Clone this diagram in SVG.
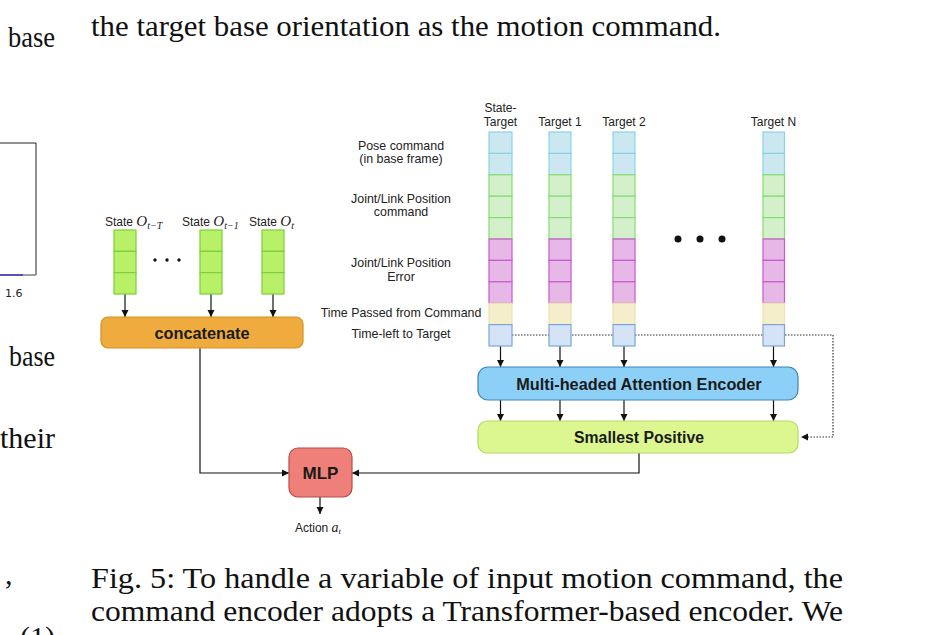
<svg xmlns="http://www.w3.org/2000/svg" width="935" height="635" viewBox="0 0 935 635">
<defs>
<marker id="ah" markerWidth="8" markerHeight="8" refX="7" refY="4" orient="auto" markerUnits="userSpaceOnUse">
<path d="M0,0.5 L7,4 L0,7.5 Z" fill="#111"/>
</marker>
<style>
.page{font-family:"Times New Roman","Liberation Serif",Times,serif;font-size:30px;fill:#111}
.lbl{font-family:"Liberation Sans",Arial,sans-serif;font-size:12px;fill:#222;text-anchor:middle}
.row{font-family:"Liberation Sans",Arial,sans-serif;font-size:12.4px;fill:#222;text-anchor:middle}
.big{font-family:"Liberation Sans",Arial,sans-serif;font-weight:bold;fill:#1a1a1a;text-anchor:middle}
.math{font-family:"Times New Roman","Liberation Serif",Times,serif;font-style:italic}
.cb{fill:#cbe7ef;stroke:#8dd2e4;stroke-width:1.2}
.cg{fill:#d4f0cb;stroke:#85dc72;stroke-width:1.2}
.cp{fill:#e6b7e7;stroke:#c95bcb;stroke-width:1.2}
.cy{fill:#f4efca;stroke:#ebe3b2;stroke-width:1.2}
.cl{fill:#d5e3f6;stroke:#7ea5da;stroke-width:1.2}
.cs{fill:#b8f168;stroke:#7ecf3b;stroke-width:1.2}
.conn{fill:none;stroke:#111;stroke-width:1.2}
.dot{fill:none;stroke:#333;stroke-width:1.2;stroke-dasharray:1.5 1.5}
</style>
</defs>
<rect width="935" height="635" fill="#fff"/>

<g id="page-text">
<text class="page" x="91" y="36" textLength="630" lengthAdjust="spacingAndGlyphs">the target base orientation as the motion command.</text>
<text class="page" x="8" y="47" textLength="47" lengthAdjust="spacingAndGlyphs">base</text>
<text class="page" x="9" y="366" textLength="46" lengthAdjust="spacingAndGlyphs">base</text>
<text class="page" x="0" y="448" textLength="55" lengthAdjust="spacingAndGlyphs">their</text>
<text class="page" x="5" y="584">,</text>
<text class="page" x="91" y="588" textLength="752" lengthAdjust="spacingAndGlyphs">Fig. 5: To handle a variable of input motion command, the</text>
<text class="page" x="91" y="621" textLength="752" lengthAdjust="spacingAndGlyphs">command encoder adopts a Transformer-based encoder. We</text>
<text class="page" x="20" y="647">(1)</text>
</g>

<g id="side-chart">
<path d="M0,143 H36 V275" fill="none" stroke="#222" stroke-width="1"/>
<line x1="0" y1="275" x2="23" y2="275" stroke="#2a2aa8" stroke-width="1.6"/>
<line x1="23" y1="275" x2="36" y2="275" stroke="#888" stroke-width="1.6"/>
<text x="5" y="297" font-family="DejaVu Sans, sans-serif" font-size="11" fill="#222">1.6</text>
</g>

<g id="connectors">
<line class="dot" x1="512" y1="335" x2="833" y2="335"/>
<path class="dot" d="M833,335 V437 H808"/>
<path d="M808,433.5 L801,437 L808,440.5 Z" fill="#111"/>
<line class="conn" x1="125" y1="294" x2="125" y2="317" marker-end="url(#ah)"/>
<line class="conn" x1="211" y1="294" x2="211" y2="317" marker-end="url(#ah)"/>
<line class="conn" x1="273" y1="294" x2="273" y2="317" marker-end="url(#ah)"/>
<line class="conn" x1="500.5" y1="346" x2="500.5" y2="367" marker-end="url(#ah)"/>
<line class="conn" x1="560" y1="346" x2="560" y2="367" marker-end="url(#ah)"/>
<line class="conn" x1="624" y1="346" x2="624" y2="367" marker-end="url(#ah)"/>
<line class="conn" x1="773.5" y1="346" x2="773.5" y2="367" marker-end="url(#ah)"/>
<line class="conn" x1="500.5" y1="400" x2="500.5" y2="421" marker-end="url(#ah)"/>
<line class="conn" x1="560" y1="400" x2="560" y2="421" marker-end="url(#ah)"/>
<line class="conn" x1="624" y1="400" x2="624" y2="421" marker-end="url(#ah)"/>
<line class="conn" x1="773.5" y1="400" x2="773.5" y2="421" marker-end="url(#ah)"/>
<path class="conn" d="M200,348 V473 H289" marker-end="url(#ah)"/>
<path class="conn" d="M639,453 V473 H352" marker-end="url(#ah)"/>
<line class="conn" x1="320" y1="497" x2="320" y2="514" marker-end="url(#ah)"/>
</g>

<g id="state-T">
<text class="lbl" x="105" y="226" style="text-anchor:start">State <tspan class="math" font-size="15">O</tspan><tspan class="math" font-size="10" dy="3">t−T</tspan></text>
<rect class="cs" x="114" y="230" width="22" height="21.3"/>
<rect class="cs" x="114" y="251.3" width="22" height="21.3"/>
<rect class="cs" x="114" y="272.6" width="22" height="21.4"/>
</g>
<g id="state-t-1">
<text class="lbl" x="182" y="226" style="text-anchor:start">State <tspan class="math" font-size="15">O</tspan><tspan class="math" font-size="10" dy="3">t−1</tspan></text>
<rect class="cs" x="200" y="230" width="22" height="21.3"/>
<rect class="cs" x="200" y="251.3" width="22" height="21.3"/>
<rect class="cs" x="200" y="272.6" width="22" height="21.4"/>
</g>
<g id="state-t">
<text class="lbl" x="249" y="226" style="text-anchor:start">State <tspan class="math" font-size="15">O</tspan><tspan class="math" font-size="10" dy="3">t</tspan></text>
<rect class="cs" x="262" y="230" width="22" height="21.3"/>
<rect class="cs" x="262" y="251.3" width="22" height="21.3"/>
<rect class="cs" x="262" y="272.6" width="22" height="21.4"/>
</g>
<g id="state-dots" fill="#111">
<circle cx="155" cy="260" r="1.7"/>
<circle cx="167" cy="260" r="1.7"/>
<circle cx="179" cy="260" r="1.7"/>
</g>

<g id="concatenate">
<rect x="101" y="317" width="202" height="31" rx="7" fill="#f0ab3f" stroke="#d4901f" stroke-width="1.2"/>
<text class="big" x="202" y="338.5" font-size="16.3">concatenate</text>
</g>

<g id="row-labels">
<text class="row" x="401" y="150">Pose command</text>
<text class="row" x="401" y="163">(in base frame)</text>
<text class="row" x="401" y="203">Joint/Link Position</text>
<text class="row" x="401" y="216">command</text>
<text class="row" x="401" y="267">Joint/Link Position</text>
<text class="row" x="401" y="281">Error</text>
<text class="row" x="401" y="317">Time Passed from Command</text>
<text class="row" x="401" y="338">Time-left to Target</text>
</g>

<g id="col-state-target">
<text class="lbl" x="500.5" y="112">State-</text>
<text class="lbl" x="500.5" y="126">Target</text>
<rect class="cb" x="489" y="132" width="23" height="21.4"/>
<rect class="cb" x="489" y="153.4" width="23" height="21.4"/>
<rect class="cg" x="489" y="174.8" width="23" height="21.4"/>
<rect class="cg" x="489" y="196.2" width="23" height="21.4"/>
<rect class="cg" x="489" y="217.6" width="23" height="21.4"/>
<rect class="cp" x="489" y="239" width="23" height="21.4"/>
<rect class="cp" x="489" y="260.4" width="23" height="21.4"/>
<rect class="cp" x="489" y="281.8" width="23" height="21.4"/>
<rect class="cy" x="489" y="303.2" width="23" height="21.4"/>
<rect class="cl" x="489" y="324.6" width="23" height="21.4"/>
</g>
<g id="col-target-1">
<text class="lbl" x="560" y="126">Target 1</text>
<rect class="cb" x="549" y="132" width="22" height="21.4"/>
<rect class="cb" x="549" y="153.4" width="22" height="21.4"/>
<rect class="cg" x="549" y="174.8" width="22" height="21.4"/>
<rect class="cg" x="549" y="196.2" width="22" height="21.4"/>
<rect class="cg" x="549" y="217.6" width="22" height="21.4"/>
<rect class="cp" x="549" y="239" width="22" height="21.4"/>
<rect class="cp" x="549" y="260.4" width="22" height="21.4"/>
<rect class="cp" x="549" y="281.8" width="22" height="21.4"/>
<rect class="cy" x="549" y="303.2" width="22" height="21.4"/>
<rect class="cl" x="549" y="324.6" width="22" height="21.4"/>
</g>
<g id="col-target-2">
<text class="lbl" x="624" y="126">Target 2</text>
<rect class="cb" x="613" y="132" width="22" height="21.4"/>
<rect class="cb" x="613" y="153.4" width="22" height="21.4"/>
<rect class="cg" x="613" y="174.8" width="22" height="21.4"/>
<rect class="cg" x="613" y="196.2" width="22" height="21.4"/>
<rect class="cg" x="613" y="217.6" width="22" height="21.4"/>
<rect class="cp" x="613" y="239" width="22" height="21.4"/>
<rect class="cp" x="613" y="260.4" width="22" height="21.4"/>
<rect class="cp" x="613" y="281.8" width="22" height="21.4"/>
<rect class="cy" x="613" y="303.2" width="22" height="21.4"/>
<rect class="cl" x="613" y="324.6" width="22" height="21.4"/>
</g>
<g id="target-dots" fill="#111">
<circle cx="678" cy="239" r="3.5"/>
<circle cx="700" cy="239" r="3.5"/>
<circle cx="722" cy="239" r="3.5"/>
</g>
<g id="col-target-n">
<text class="lbl" x="773.5" y="126">Target N</text>
<rect class="cb" x="763" y="132" width="21.5" height="21.4"/>
<rect class="cb" x="763" y="153.4" width="21.5" height="21.4"/>
<rect class="cg" x="763" y="174.8" width="21.5" height="21.4"/>
<rect class="cg" x="763" y="196.2" width="21.5" height="21.4"/>
<rect class="cg" x="763" y="217.6" width="21.5" height="21.4"/>
<rect class="cp" x="763" y="239" width="21.5" height="21.4"/>
<rect class="cp" x="763" y="260.4" width="21.5" height="21.4"/>
<rect class="cp" x="763" y="281.8" width="21.5" height="21.4"/>
<rect class="cy" x="763" y="303.2" width="21.5" height="21.4"/>
<rect class="cl" x="763" y="324.6" width="21.5" height="21.4"/>
</g>

<g id="attention-encoder">
<rect x="478" y="367" width="320" height="33" rx="10" fill="#8dd0f7" stroke="#3e85b8" stroke-width="1.2"/>
<text class="big" x="639" y="389.5" font-size="16.3">Multi-headed Attention Encoder</text>
</g>

<g id="smallest-positive">
<rect x="478" y="421" width="320" height="32" rx="9" fill="#dcf78f" stroke="#b6d96a" stroke-width="1.2"/>
<text class="big" x="639" y="443" font-size="15.8">Smallest Positive</text>
</g>

<g id="mlp">
<rect x="289" y="448" width="63" height="49" rx="9" fill="#ee8079" stroke="#b94a44" stroke-width="1.2"/>
<text class="big" x="320.5" y="479" font-size="17">MLP</text>
</g>

<g id="action">
<text class="lbl" x="318" y="532">Action <tspan class="math" font-size="14">a</tspan><tspan class="math" font-size="9" dy="2">t</tspan></text>
</g>
</svg>
